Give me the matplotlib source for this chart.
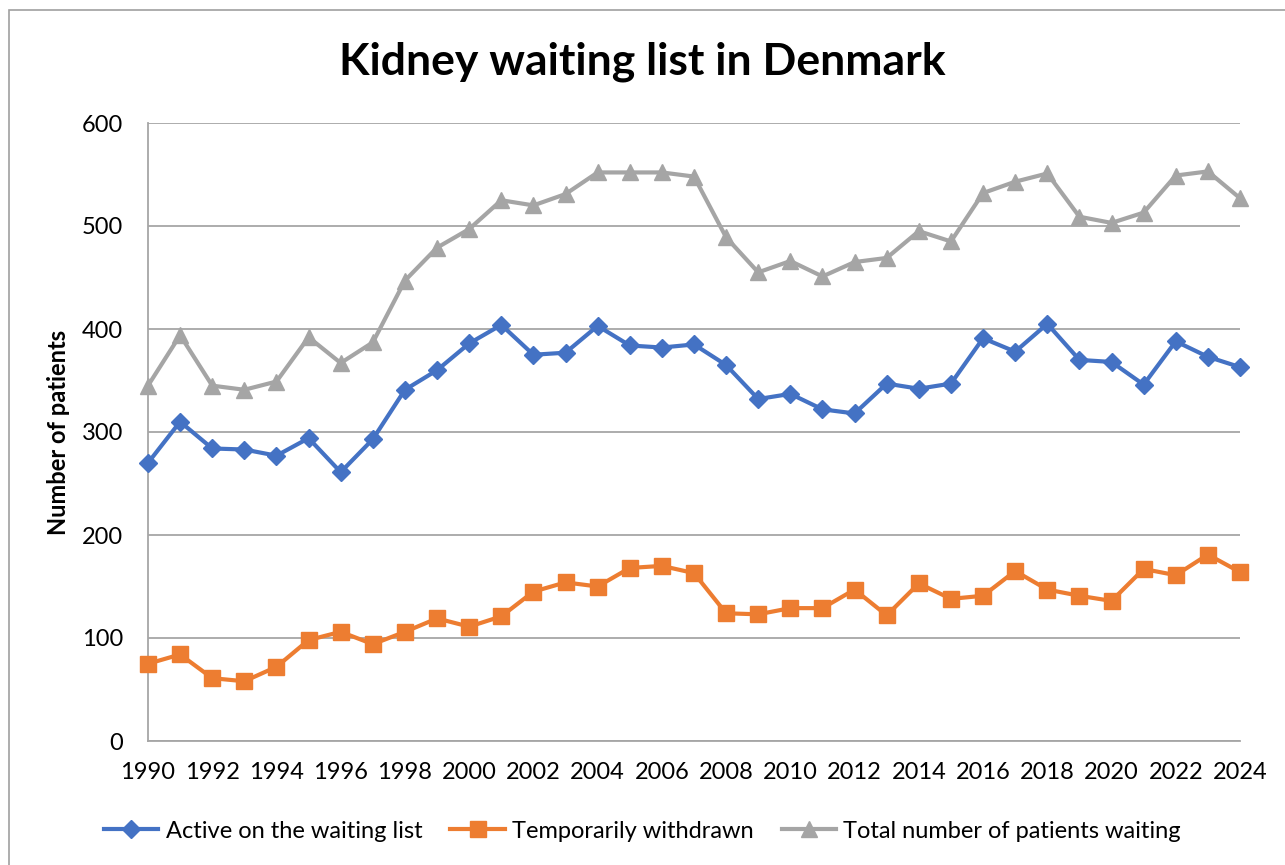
import matplotlib.pyplot as plt
from matplotlib.patches import Rectangle

years = list(range(1990, 2025))

active = [270, 310, 284, 283, 277, 294, 261, 293, 341, 360, 386, 404, 375, 377,
          403, 384, 382, 385, 365, 332, 337, 322, 318, 347, 342, 347, 391, 378,
          405, 370, 368, 346, 388, 373, 363]
withdrawn = [75, 84, 61, 58, 72, 98, 106, 94, 106, 119, 111, 121, 145, 154,
             150, 168, 170, 163, 124, 123, 129, 129, 147, 122, 153, 138, 141, 165,
             147, 141, 136, 167, 161, 181, 164]
total = [345, 394, 345, 341, 349, 392, 367, 387, 447, 479, 497, 525, 520, 531,
         552, 552, 552, 548, 489, 455, 466, 451, 465, 469, 495, 485, 532, 543,
         551, 509, 503, 513, 549, 553, 527]

x_ticks = list(range(1990, 2025, 2))
y_ticks = [0, 100, 200, 300, 400, 500, 600]

series_labels = ["Active on the waiting list", "Temporarily withdrawn",
                 "Total number of patients waiting"]
colors = ["#4472C4", "#ED7D31", "#A5A5A5"]
markers = ["D", "s", "^"]
marker_sizes = [9, 11, 11]

plt.rcParams['font.family'] = ['Lato', 'DejaVu Sans']

fig = plt.figure(figsize=(12.85, 8.65), dpi=100)
ax = fig.add_axes([148 / 1285, 1 - 741 / 865, (1240 - 148) / 1285, (741 - 123) / 865])

# chart-area frame (top and left edges visible)
fig.patches.append(Rectangle((9 / 1285, -0.1), 1.2, 1 - 10 / 865 + 0.1,
                             transform=fig.transFigure, fill=False,
                             edgecolor="#A0A0A0", linewidth=1.2))

for vals, lab, c, m, ms in zip([active, withdrawn, total], series_labels,
                               colors, markers, marker_sizes):
    ax.plot(years, vals, color=c, linewidth=3, marker=m, markersize=ms,
            label=lab, clip_on=False, zorder=3)

ax.set_xlim(1990, 2024)
ax.set_ylim(0, 600)
ax.set_xticks(x_ticks)
ax.set_yticks(y_ticks)
ax.tick_params(axis="both", length=0, labelsize=17, colors="black")
ax.tick_params(axis="x", pad=15)
ax.tick_params(axis="y", pad=18)
ax.grid(axis="y", color="#A6A6A6", linewidth=1.3)
ax.set_axisbelow(True)
for side in ["top", "right"]:
    ax.spines[side].set_visible(False)
for side in ["left", "bottom"]:
    ax.spines[side].set_color("#A6A6A6")
    ax.spines[side].set_linewidth(1.3)

ax.set_ylabel("Number of patients", fontsize=17, fontweight="bold")
ax.yaxis.set_label_coords((70 - 148) / (1240 - 148), 0.5)
fig.text(0.5, 1 - 62 / 865, "Kidney waiting list in Denmark", ha="center",
         va="center", fontsize=32, fontweight="bold")

fig.legend(loc="center", bbox_to_anchor=(0.5, 1 - 831 / 865), ncol=3,
           frameon=False, fontsize=17, handlelength=2.3, columnspacing=1.2,
           handletextpad=0.3)

fig.savefig("out.png", dpi=100)
